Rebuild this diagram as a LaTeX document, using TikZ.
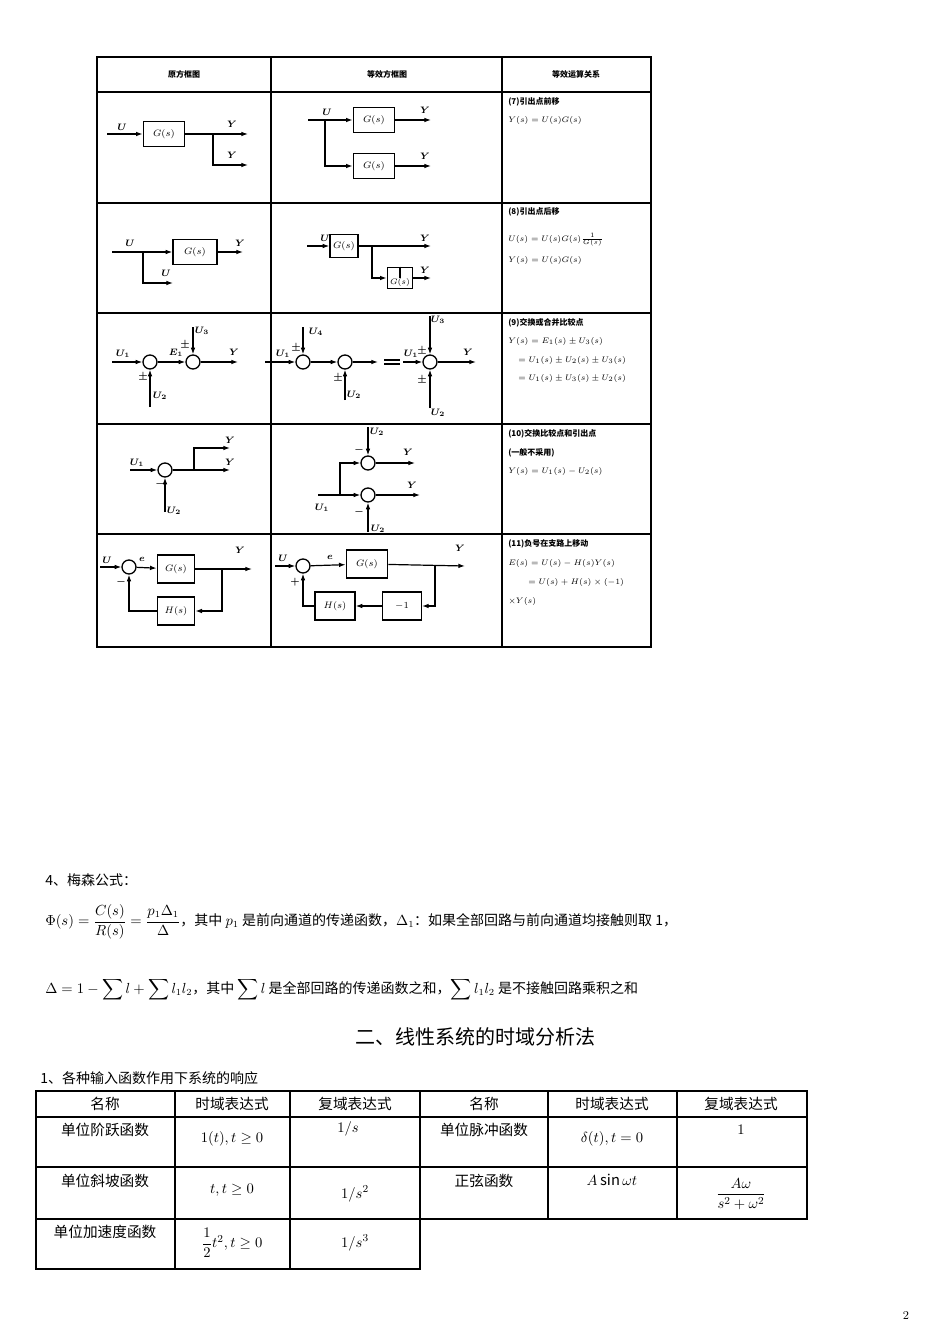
\documentclass[tikz,border=0pt]{standalone}
\usepackage{amsmath}
\usepackage{fontspec}
\setmainfont{Noto Sans CJK SC}
\usetikzlibrary{arrows.meta}
\begin{document}
\begin{tikzpicture}[x=0.75pt,y=-0.75pt,
 sig/.style={line width=0.9pt},
 ar/.style={sig,-{Latex[length=5pt,width=3.5pt]}},
 blk/.style={draw,line width=1pt,inner sep=0,font=\fontsize{7}{8}\selectfont,execute at begin node=$,execute at end node=$},
 sum/.style={circle,draw,line width=1pt,minimum size=10.5pt,inner sep=0},
 lb/.style={font=\fontsize{7.5}{8}\selectfont\boldmath,inner sep=0,execute at begin node=$,execute at end node=$},
 hd/.style={font=\fontsize{6}{7}\selectfont\bfseries,inner sep=0},
 rel/.style={font=\fontsize{6}{7}\selectfont\bfseries,anchor=west,inner sep=0},
 body/.style={font=\fontsize{10.5}{12}\selectfont,anchor=west,inner sep=0},
 cell/.style={font=\fontsize{11}{12}\selectfont,inner sep=0},
 grid/.style={line width=0.8pt}]
\useasboundingbox (0,0) rectangle (950,1344);
% ---------- upper table frame ----------
\draw[line width=1.2pt] (97,57) rectangle (651,647);
\foreach \x in {271,502} \draw[line width=1pt] (\x,57) -- (\x,647);
\foreach \y in {92,203,313,424,534} \draw[line width=1pt] (97,\y) -- (651,\y);
\node[hd] (h1) at (184,74) {原方框图};
\node[hd] (h2) at (387,74) {等效方框图};
\node[hd] (h3) at (576,74) {等效运算关系};
% ---------- row 1 ----------
\coordinate (a1) at (107,134);
\node[blk,minimum width=31pt,minimum height=19pt] (g1) at (164,134) {G(s)};
\draw[ar] (a1) -- (g1);
\coordinate (b1) at (213,134); \coordinate (o1) at (248,134); \coordinate (o1b) at (248,165);
\draw[ar] (g1) -- (o1);
\draw[ar] (b1) |- (o1b);
\node[lb] (u1) at (122,127) {U};
\node[lb] (y1) at (232,124) {Y}; \node[lb] (y1b) at (232,155) {Y};
\coordinate (a1e) at (308,120); \coordinate (b1e) at (325,120);
\node[blk,minimum width=31pt,minimum height=19pt] (g1e) at (374,120) {G(s)};
\node[blk,minimum width=31pt,minimum height=19pt] (g1f) at (374,166) {G(s)};
\coordinate (o1e) at (431,120); \coordinate (o1f) at (431,166);
\draw[ar] (a1e) -- (g1e); \draw[ar] (b1e) |- (g1f);
\draw[ar] (g1e) -- (o1e); \draw[ar] (g1f) -- (o1f);
\node[lb] (u1e) at (327,112) {U};
\node[lb] (y1e) at (425,110) {Y}; \node[lb] (y1f) at (425,156) {Y};
\node[rel] (r7a) at (508,102) {(7)引出点前移};
\node[rel] (r7b) at (508,121) {$Y(s)=U(s)G(s)$};
% ---------- row 2 ----------
\coordinate (a2) at (112,252); \coordinate (b2) at (143,252);
\node[blk,minimum width=33pt,minimum height=19pt] (g2) at (195,252) {G(s)};
\coordinate (o2) at (243,252); \coordinate (o2b) at (173,283);
\draw[ar] (a2) -- (g2); \draw[ar] (g2) -- (o2); \draw[ar] (b2) |- (o2b);
\node[lb] (u2) at (130,243) {U}; \node[lb] (u2b) at (166,273) {U}; \node[lb] (y2) at (240,243) {Y};
\coordinate (a2e) at (307,246);
\node[blk,minimum width=21pt,minimum height=17pt] (g2e) at (344,246) {G(s)};
\coordinate (b2e) at (372,246); \coordinate (o2e) at (431,246);
\node[blk,minimum width=19pt,minimum height=16pt] (g2f) at (400,278) {};
\node[font=\fontsize{6}{7}\selectfont,inner sep=0] (g2fl) at (400,283) {$G(s)$};
\coordinate (o2f) at (431,278);
\draw[ar] (a2e) -- (g2e); \draw[ar] (g2e) -- (o2e);
\draw[ar] (b2e) |- (g2f); \draw[ar] (g2f) -- (o2f);
\draw[line width=0.8pt] (g2f.north) -- (g2f.center);
\node[lb] (u2e) at (325,238) {U}; \node[lb] (y2e) at (425,238) {Y}; \node[lb] (y2f) at (425,270) {Y};
\node[rel] (r8a) at (508,212) {(8)引出点后移};
\node[rel] (r8b) at (508,240) {$U(s)=U(s)G(s)\frac{1}{G(s)}$};
\node[rel] (r8c) at (508,261) {$Y(s)=U(s)G(s)$};
% ---------- row 3 ----------
\node[sum] (c31) at (150,362) {}; \node[sum] (c32) at (193,362) {};
\coordinate (a3) at (112,362); \coordinate (o3) at (238,362);
\coordinate (d3) at (150,407); \coordinate (t3) at (193,327);
\draw[ar] (a3) -- (c31); \draw[ar] (c31) -- (c32); \draw[ar] (c32) -- (o3);
\draw[ar] (d3) -- (c31); \draw[ar] (t3) -- (c32);
\node[lb] (u31) at (123,354) {U_1}; \node[lb] (e31) at (176,353) {E_1};
\node[lb] (y3) at (234,352) {Y};
\node[lb] (u32) at (160,396) {U_2}; \node[lb] (u33) at (202,331) {U_3};
\node[lb] (pm31) at (143,377) {\pm}; \node[lb] (pm32) at (185,345) {\pm};
\node[sum] (c3a) at (303,362) {}; \node[sum] (c3b) at (345,362) {}; \node[sum] (c3c) at (430,362) {};
\coordinate (a3e) at (265,362); \coordinate (m3) at (378,362);
\draw[ar] (a3e) -- (c3a); \draw[ar] (c3a) -- (c3b); \draw[ar] (c3b) -- (m3);
\draw[line width=0.8pt] (384,360) -- (400,360) (384,364) -- (400,364);
\coordinate (a3f) at (403,362); \coordinate (o3e) at (476,362);
\draw[ar] (a3f) -- (c3c); \draw[ar] (c3c) -- (o3e);
\coordinate (t3a) at (303,327); \coordinate (d3b) at (345,400);
\coordinate (t3c) at (430,316); \coordinate (d3c) at (430,408);
\draw[ar] (t3a) -- (c3a); \draw[ar] (d3b) -- (c3b); \draw[ar] (t3c) -- (c3c); \draw[ar] (d3c) -- (c3c);
\node[lb] (u3e1) at (283,354) {U_1}; \node[lb] (u3e4) at (316,332) {U_4};
\node[lb] (u3e2) at (354,395) {U_2}; \node[lb] (u3e1b) at (411,354) {U_1};
\node[lb] (u3e3) at (438,320) {U_3}; \node[lb] (u3e2b) at (438,413) {U_2};
\node[lb] (y3e) at (468,352) {Y};
\node[lb] (pm3a) at (296,348) {\pm}; \node[lb] (pm3b) at (338,378) {\pm};
\node[lb] (pm3c) at (422,351) {\pm}; \node[lb] (pm3d) at (422,380) {\pm};
\node[rel] (r9a) at (508,323) {(9)交换或合并比较点};
\node[rel] (r9b) at (508,341) {$Y(s)=E_1(s)\pm U_3(s)$};
\node[rel] (r9c) at (518,360) {$=U_1(s)\pm U_2(s)\pm U_3(s)$};
\node[rel] (r9d) at (518,378) {$=U_1(s)\pm U_3(s)\pm U_2(s)$};
% ---------- row 4 ----------
\node[sum] (c4) at (165,470) {};
\coordinate (a4) at (130,470); \coordinate (b4) at (194,470);
\coordinate (o4) at (230,470); \coordinate (o4b) at (230,448); \coordinate (d4) at (165,512);
\draw[ar] (a4) -- (c4); \draw[ar] (c4) -- (o4); \draw[ar] (b4) |- (o4b); \draw[ar] (d4) -- (c4);
\node[lb] (u41) at (137,463) {U_1}; \node[lb] (u42) at (174,511) {U_2};
\node[lb] (y4a) at (230,440) {Y}; \node[lb] (y4b) at (230,462) {Y};
\node[lb] (mi4) at (160,484) {-};
\node[sum] (c4t) at (368,463) {}; \node[sum] (c4b) at (368,495) {};
\coordinate (a4e) at (318,495); \coordinate (b4e) at (340,495);
\coordinate (o4t) at (415,463); \coordinate (o4c) at (420,495);
\coordinate (t4) at (368,427); \coordinate (d4e) at (368,532);
\draw[ar] (a4e) -- (c4b); \draw[ar] (b4e) |- (c4t);
\draw[ar] (c4t) -- (o4t); \draw[ar] (c4b) -- (o4c);
\draw[ar] (t4) -- (c4t); \draw[ar] (d4e) -- (c4b);
\node[lb] (u4e1) at (322,508) {U_1}; \node[lb] (u4e2) at (377,432) {U_2}; \node[lb] (u4e3) at (378,529) {U_2};
\node[lb] (y4e) at (408,452) {Y}; \node[lb] (y4f) at (412,485) {Y};
\node[lb] (mi4a) at (359,450) {-}; \node[lb] (mi4b) at (359,512) {-};
\node[rel] (r10a) at (508,434) {(10)交换比较点和引出点};
\node[rel] (r10b) at (508,453) {(一般不采用)};
\node[rel] (r10c) at (508,471) {$Y(s)=U_1(s)-U_2(s)$};
% ---------- row 5 ----------
\node[sum] (c5) at (129,567) {};
\node[blk,minimum width=28pt,minimum height=21pt] (g5) at (176,569) {G(s)};
\node[blk,minimum width=28pt,minimum height=21pt] (h5) at (176,611) {H(s)};
\coordinate (a5) at (100,567); \coordinate (b5) at (222,569); \coordinate (o5) at (252,569);
\draw[ar] (a5) -- (c5); \draw[ar] (c5) -- (g5); \draw[ar] (g5) -- (o5);
\draw[ar] (b5) |- (h5); \draw[ar] (h5) -| (c5);
\node[lb] (u5) at (107,560) {U}; \node[lb] (e5) at (142,559) {e}; \node[lb] (y5) at (240,550) {Y};
\node[lb] (mi5) at (121,582) {-};
\node[sum] (c5e) at (303,566) {};
\node[blk,minimum width=31pt,minimum height=21pt] (g5e) at (367,564) {G(s)};
\node[blk,minimum width=29pt,minimum height=21pt] (n5e) at (402,606) {-1};
\node[blk,minimum width=30pt,minimum height=21pt] (h5e) at (335,606) {H(s)};
\coordinate (a5e) at (275,566); \coordinate (b5e) at (435,566); \coordinate (o5e) at (465,566);
\draw[ar] (a5e) -- (c5e); \draw[ar] (c5e) -- (g5e); \draw[ar] (g5e) -- (o5e);
\draw[ar] (b5e) |- (n5e); \draw[ar] (n5e) -- (h5e); \draw[ar] (h5e) -| (c5e);
\node[lb] (u5e) at (283,558) {U}; \node[lb] (e5e) at (330,557) {e}; \node[lb] (y5e) at (460,548) {Y};
\node[lb] (pl5) at (295,582) {+};
\node[rel] (r11a) at (508,544) {(11)负号在支路上移动};
\node[rel] (r11b) at (508,563) {$E(s)=U(s)-H(s)Y(s)$};
\node[rel] (r11c) at (528,582) {$=U(s)+H(s)\times(-1)$};
\node[rel] (r11d) at (508,601) {$\times Y(s)$};
% ---------- Mason text ----------
\node[body] (t1) at (45,880) {4、梅森公式：};
\node[body] (t2) at (45,922) {$\Phi(s)=\dfrac{C(s)}{R(s)}=\dfrac{p_1\Delta_1}{\Delta}$，其中 $p_1$ 是前向通道的传递函数，$\Delta_1$：如果全部回路与前向通道均接触则取 1，};
\node[body] (t3) at (45,990) {$\Delta=1-\displaystyle\sum l+\sum l_1l_2$，其中 $\displaystyle\sum l$ 是全部回路的传递函数之和，$\displaystyle\sum l_1l_2$ 是不接触回路乘积之和};
\node[font=\fontsize{15}{16}\selectfont,inner sep=0] (ttl) at (475,1037) {二、线性系统的时域分析法};
\node[body] (t4) at (40,1078) {1、各种输入函数作用下系统的响应};
% ---------- lower table ----------
\draw[grid] (36,1091) rectangle (807,1219);
\draw[grid] (36,1219) -- (36,1269) -- (420,1269) -- (420,1219);
\foreach \x in {175,290} \draw[grid] (\x,1091) -- (\x,1269);
\foreach \x in {548,677} \draw[grid] (\x,1091) -- (\x,1219);
\draw[grid] (420,1091) -- (420,1219);
\draw[grid] (36,1117) -- (807,1117);
\draw[grid] (36,1167) -- (807,1167);
\node[cell] (k1) at (105,1104) {名称}; \node[cell] (k2) at (232,1104) {时域表达式}; \node[cell] (k3) at (355,1104) {复域表达式};
\node[cell] (k4) at (484,1104) {名称}; \node[cell] (k5) at (612,1104) {时域表达式}; \node[cell] (k6) at (741,1104) {复域表达式};
\node[cell] (c11) at (105,1130) {单位阶跃函数}; \node[cell] (c12) at (232,1139) {$1(t),t\ge0$}; \node[cell] (c13) at (348,1129) {$1/s$};
\node[cell] (c14) at (484,1130) {单位脉冲函数}; \node[cell] (c15) at (612,1139) {$\delta(t),t=0$}; \node[cell] (c16) at (741,1130) {$1$};
\node[cell] (c21) at (105,1181) {单位斜坡函数}; \node[cell] (c22) at (232,1190) {$t,t\ge0$}; \node[cell] (c23) at (355,1194) {$1/s^2$};
\node[cell] (c24) at (484,1181) {正弦函数}; \node[cell] (c25) at (612,1180) {$A\sin\omega t$}; \node[cell] (c26) at (741,1194) {$\dfrac{A\omega}{s^2+\omega^2}$};
\node[cell] (c31t) at (105,1232) {单位加速度函数}; \node[cell] (c32t) at (232,1243) {$\dfrac12t^2,t\ge0$}; \node[cell] (c33t) at (355,1243) {$1/s^3$};
\node[cell,font=\fontsize{9}{10}\selectfont] (pg) at (906,1316) {$2$};
\end{tikzpicture}
\end{document}
